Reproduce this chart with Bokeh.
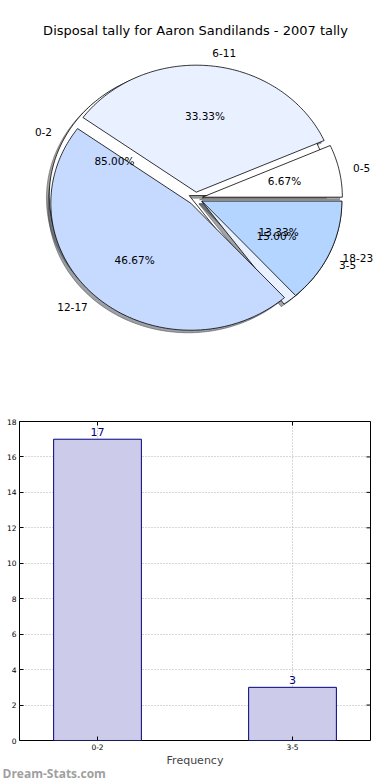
import numpy as np
from bokeh.plotting import figure
from bokeh.models import Range1d, Label, FixedTicker, ColumnDataSource, Title
from bokeh.layouts import column
from bokeh.embed import file_html
from bokeh.resources import INLINE
from bokeh.core.properties import value

# ---------------- data ----------------
title_text = "Disposal tally for Aaron Sandilands - 2007 tally"
quarter_labels = ["0-5", "6-11", "12-17", "18-23"]
quarter_counts = [1, 5, 7, 2]
freq_labels = ["0-2", "3-5"]
freq_counts = [17, 3]
pie_colors = ["#ffffff", "#e9f0ff", "#c6d9ff", "#b3d5ff"]
y_ticks = [0, 2, 4, 6, 8, 10, 12, 14, 16, 18]
x_axis_label = "Frequency"
watermark = "Dream-Stats.com"

FONT = "DejaVu Sans"
EXPLODE = 0.05
SHADOW = 0.02

# pie geometry (horizontal / vertical radius of the stretched pie)
W1, H1 = 390, 400
RX, RY = 140.0, 127.0
CXP, CYP = 195.0, 198.0  # pie centre, pixels from top-left of the figure


def pie_parts(labels, counts, colors):
    fr = np.array(counts, float) / float(sum(counts))
    th = np.concatenate([[0.0], np.cumsum(fr)]) * 360.0
    parts = []
    for i, lab in enumerate(labels):
        t1, t2 = th[i], th[i + 1]
        tm = np.radians((t1 + t2) / 2.0)
        cx, cy = EXPLODE * np.cos(tm), EXPLODE * np.sin(tm)
        n = max(int(t2 - t1), 2) + 1
        a = np.radians(np.linspace(t1, t2, n))
        ux = [cx] + list(cx + np.cos(a)) + [cx]
        uy = [cy] + list(cy + np.sin(a)) + [cy]
        lx = cx + 1.1 * np.cos(tm)
        ly = cy + 1.1 * np.sin(tm)
        parts.append(dict(
            ux=np.array(ux), uy=np.array(uy), color=colors[i],
            lx=lx * RX, ly=ly * RY, align="left" if lx > 0 else "right",
            label=lab,
            px=(cx + 0.6 * np.cos(tm)) * RX, py=(cy + 0.6 * np.sin(tm)) * RY,
            pct="%.2f%%" % (fr[i] * 100.0)))
    return parts


def shade(c):
    c = c.lstrip("#")
    r, g, b = (int(c[k:k + 2], 16) for k in (0, 2, 4))
    return "#%02x%02x%02x" % (int(r * 0.3), int(g * 0.3), int(b * 0.3))


# ---------------- pie figure ----------------
p1 = figure(width=W1, height=H1, output_backend="svg", toolbar_location=None,
            x_range=Range1d(-CXP, W1 - CXP), y_range=Range1d(-(H1 - CYP), CYP),
            x_axis_location=None, y_axis_location=None,
            min_border=0, outline_line_color=None, frame_align=False)
p1.grid.visible = False

pie_b = pie_parts(freq_labels, freq_counts, pie_colors)
pie_a = pie_parts(quarter_labels, quarter_counts, pie_colors)
all_parts = pie_b + pie_a

# shadows (below all wedges)
p1.patches(xs=[list((d["ux"] - SHADOW) * RX) for d in all_parts],
           ys=[list((d["uy"] - SHADOW) * RY) for d in all_parts],
           fill_color=[shade(d["color"]) for d in all_parts],
           line_color=[shade(d["color"]) for d in all_parts],
           fill_alpha=0.5, line_alpha=0.5)
# wedges: frequency pie first, quarter pie on top
for parts in (pie_b, pie_a):
    p1.patches(xs=[list(d["ux"] * RX) for d in parts],
               ys=[list(d["uy"] * RY) for d in parts],
               fill_color=[d["color"] for d in parts],
               line_color="black", line_width=0.8)
# texts
for parts in (pie_b, pie_a):
    src = ColumnDataSource(dict(
        lx=[d["lx"] for d in parts], ly=[d["ly"] for d in parts],
        label=[d["label"] for d in parts], align=[d["align"] for d in parts],
        px=[d["px"] for d in parts], py=[d["py"] for d in parts],
        pct=[d["pct"] for d in parts]))
    p1.text(x="lx", y="ly", text="label", source=src, text_align="align",
            text_baseline="middle", text_font=value(FONT),
            text_font_size="10.5px", text_color="black")
    p1.text(x="px", y="py", text="pct", source=src, text_align="center",
            text_baseline="middle", text_font=value(FONT),
            text_font_size="10.5px", text_color="black")

p1.add_layout(Label(x=0, y=CYP - 30, text=title_text,
                    text_align="center", text_baseline="middle",
                    text_font=FONT, text_font_size="13px", text_color="black"))

# ---------------- bar figure ----------------
X0, X1 = -0.4, 1.4
Y0, Y1 = 0, 18
p2 = figure(frame_width=351, frame_height=319, output_backend="svg",
            toolbar_location=None,
            x_range=Range1d(X0, X1), y_range=Range1d(Y0, Y1),
            min_border_left=19, min_border_right=20, min_border_top=21,
            min_border_bottom=0, outline_line_color="black",
            outline_line_width=1, frame_align=False)

xs_idx = list(range(len(freq_labels)))
bsrc = ColumnDataSource(dict(x=xs_idx, top=freq_counts,
                             lab=[str(v) for v in freq_counts]))

xt = FixedTicker(ticks=xs_idx)
yt = FixedTicker(ticks=y_ticks)
p2.xgrid.ticker = xt
p2.ygrid.ticker = yt
p2.grid.grid_line_color = "#b0b0b0"
p2.grid.grid_line_dash = "1 2"
p2.grid.grid_line_width = 1

p2.vbar(x="x", top="top", width=0.45, source=bsrc, fill_color="#ccccea",
        line_color="#000080", line_width=1)
p2.text(x="x", y="top", text="lab", source=bsrc, text_align="center",
        text_baseline="bottom", y_offset=-3, text_color="#000080",
        text_font=value(FONT), text_font_size="11px")

# inward ticks on the right and top edges
p2.scatter(x=[X1] * len(y_ticks), y=y_ticks, marker="dash", size=8,
           line_color="black", line_width=1)
p2.scatter(x=xs_idx, y=[Y1] * len(xs_idx), marker="dash", angle=np.pi / 2,
           size=8, line_color="black", line_width=1)

for ax in p2.xaxis:
    ax.ticker = xt
    ax.major_label_overrides = {i: l for i, l in zip(xs_idx, freq_labels)}
    ax.axis_label = x_axis_label
for ax in p2.yaxis:
    ax.ticker = yt

for ax in list(p2.xaxis) + list(p2.yaxis):
    ax.major_tick_in = 4
    ax.major_tick_out = 0
    ax.minor_tick_line_color = None
    ax.axis_line_color = None
    ax.major_label_text_font = FONT
    ax.major_label_text_font_size = "7.5px"
    ax.major_label_text_color = "black"
    ax.major_label_standoff = 3
    ax.axis_label_text_font = FONT
    ax.axis_label_text_font_size = "11px"
    ax.axis_label_text_font_style = "normal"
    ax.axis_label_standoff = 1

p2.add_layout(Title(text=watermark, align="left", offset=-17, standoff=-10,
                    vertical_align="top",
                    text_font="Open Sans", text_font_style="bold",
                    text_font_size="12px", text_color="#a0a0a0"), "below")

layout = column(p1, p2)
open("out.html", "w").write(file_html(layout, INLINE))
